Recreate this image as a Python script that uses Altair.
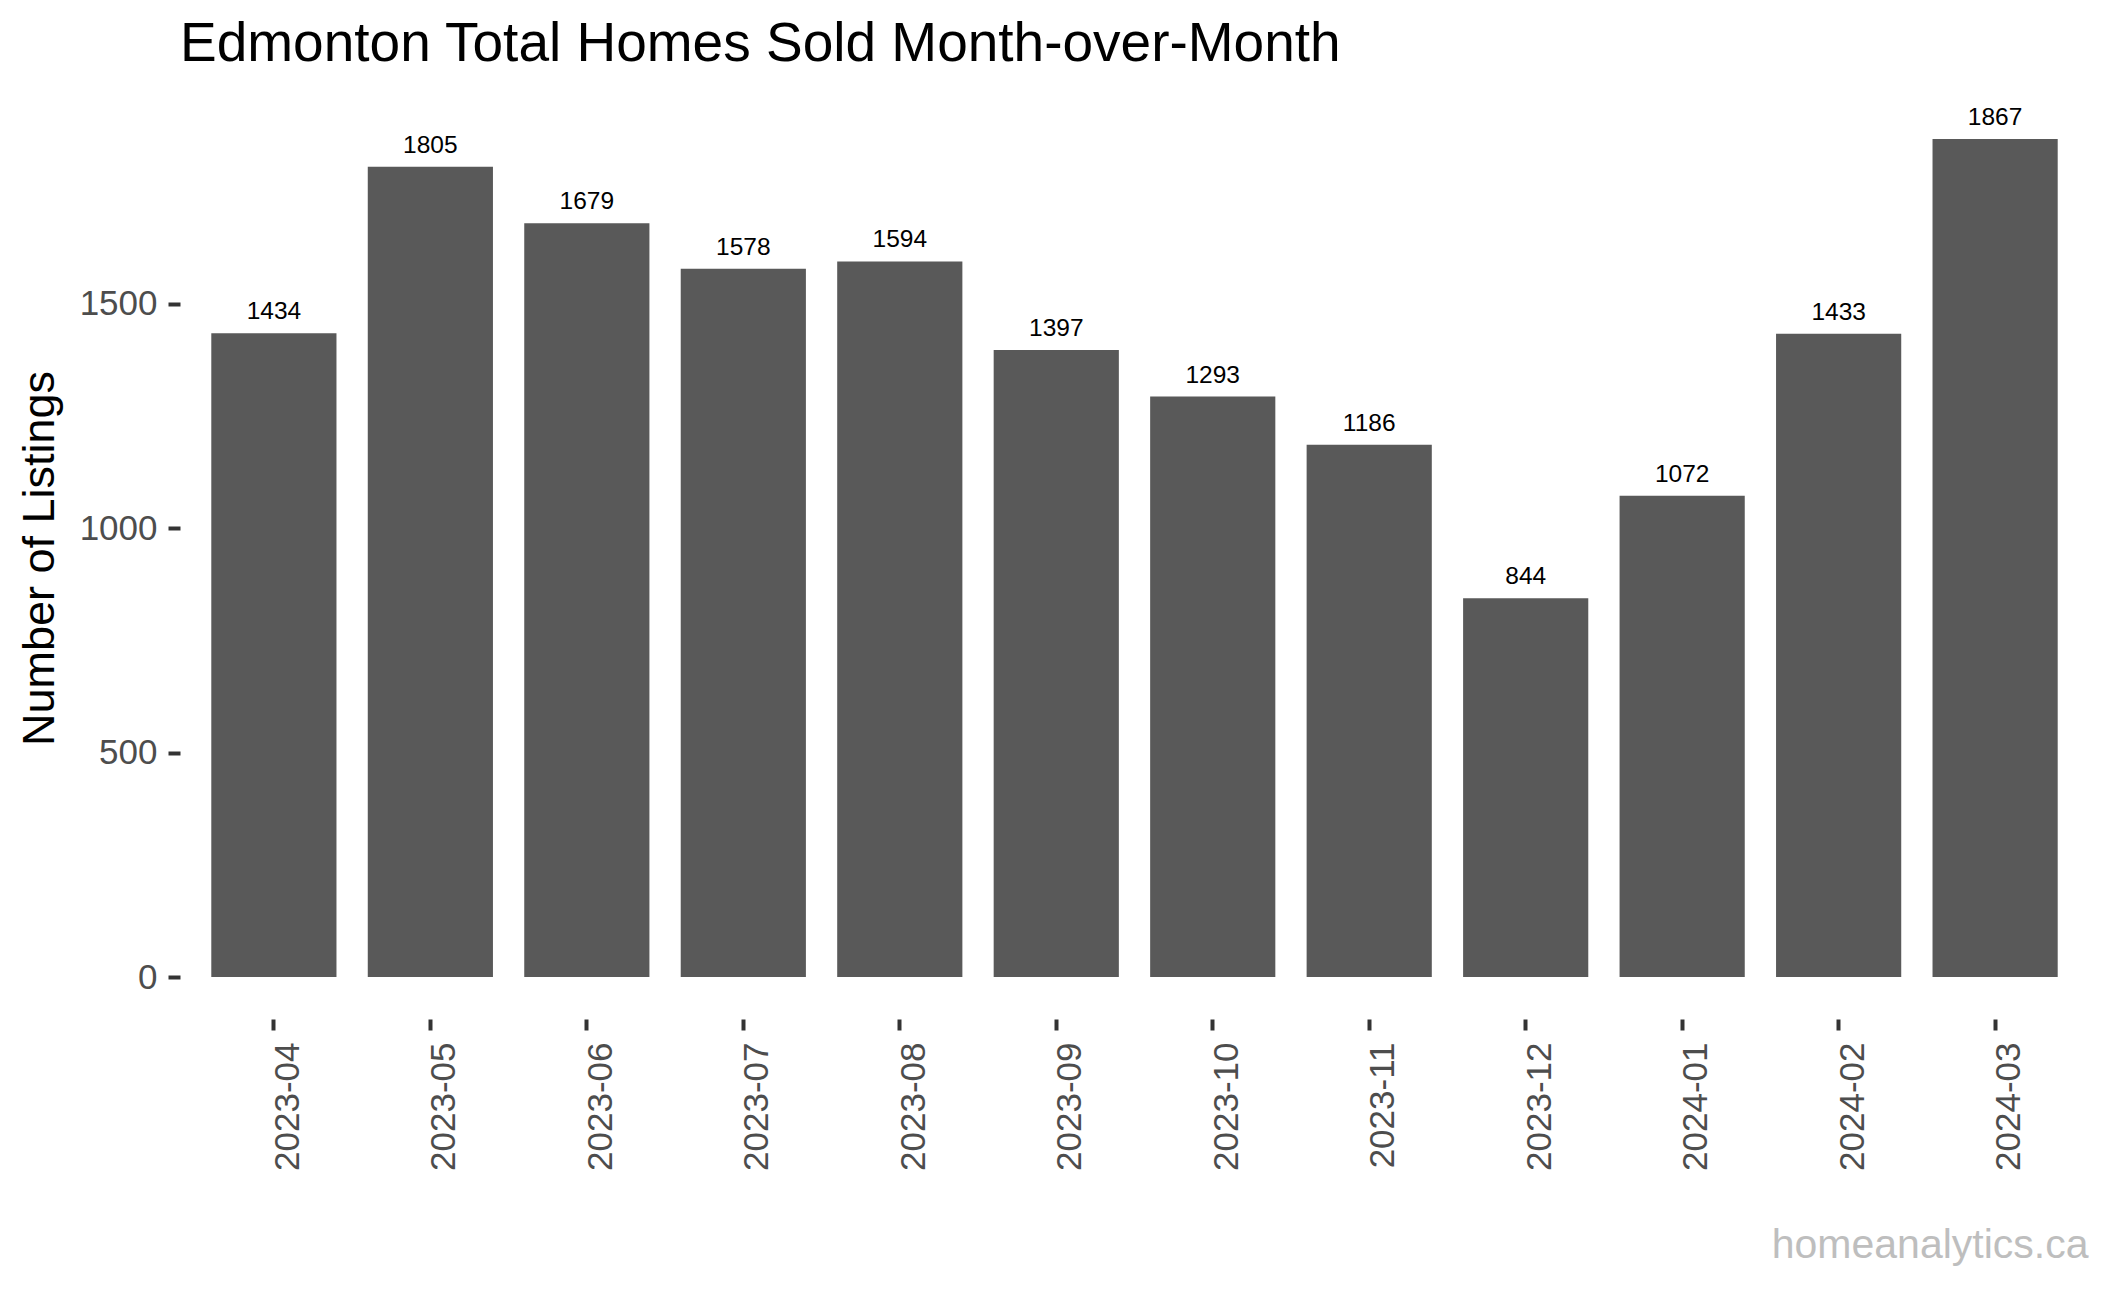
import altair as alt
import pandas as pd

FONT = "Liberation Sans"

months = ["2023-04", "2023-05", "2023-06", "2023-07", "2023-08", "2023-09",
          "2023-10", "2023-11", "2023-12", "2024-01", "2024-02", "2024-03"]
sold = [1434, 1805, 1679, 1578, 1594, 1397, 1293, 1186, 844, 1072, 1433, 1867]
y_ticks = [0, 500, 1000, 1500]
title_text = "Edmonton Total Homes Sold Month-over-Month"
y_title = "Number of Listings"
caption = "homeanalytics.ca"

df = pd.DataFrame({"month": months, "sold": sold})

W, H = 1909, 922

x_enc = alt.X(
    "month:N",
    sort=months,
    scale=alt.Scale(paddingInner=0.2, paddingOuter=0.2),
    axis=alt.Axis(
        title=caption,
        titleX=W - 1,
        titleY=238,
        titleAlign="right",
        titleBaseline="alphabetic",
        titleFontSize=41,
        titleColor="#BEBEBE",
        titleFont=FONT,
        titleFontWeight="normal",
        labelAngle=270,
        labelAlign="right",
        labelBaseline="top",
        labelOffset=-3,
        labelPadding=12,
        labelFontSize=35,
        labelColor="#4D4D4D",
        labelFont=FONT,
        tickSize=11,
        tickWidth=4,
        tickColor="#333333",
        domain=False,
        grid=False,
    ),
)

y_enc = alt.Y(
    "sold:Q",
    scale=alt.Scale(domain=[-93.35, 1960.35], nice=False, zero=False),
    axis=alt.Axis(
        values=y_ticks,
        format="d",
        title=y_title,
        titleX=-127,
        titleY=H / 2,
        titleAngle=270,
        titleAlign="center",
        titleBaseline="alphabetic",
        titleFontSize=45,
        titleColor="#000000",
        titleFont=FONT,
        titleFontWeight="normal",
        labelFontSize=35,
        labelColor="#4D4D4D",
        labelFont=FONT,
        labelPadding=11,
        labelBaseline="middle",
        tickSize=12,
        tickWidth=4,
        tickColor="#333333",
        domain=False,
        grid=False,
    ),
)

base = alt.Chart(df)

bars = base.mark_bar(color="#595959").encode(x=x_enc, y=y_enc, y2=alt.datum(0))

labels = base.mark_text(
    dy=-14, baseline="alphabetic", align="center", fontSize=24.5, color="#000000", font=FONT
).encode(x=x_enc, y=y_enc, text="sold:Q")

chart = alt.layer(bars, labels).properties(
    width=W,
    height=H,
    title=alt.Title(
        text=title_text,
        anchor="start",
        frame="group",
        fontSize=55,
        font=FONT,
        fontWeight="normal",
        color="#000000",
        baseline="alphabetic",
        offset=34,
        dy=53,
    ),
    padding={"left": 172, "top": 89, "right": 10, "bottom": 255},
    autosize=alt.AutoSizeParams(type="none"),
).configure_view(stroke="transparent")

chart.save("out.html", embed_options={"renderer": "svg", "actions": False})
